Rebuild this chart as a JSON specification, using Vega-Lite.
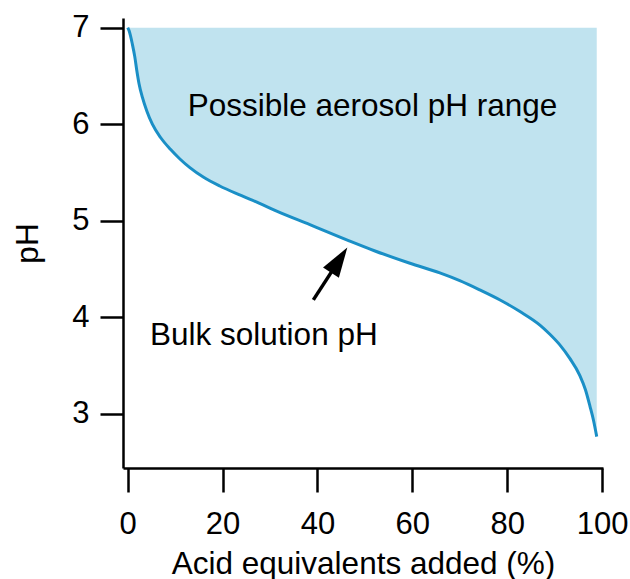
{
  "$schema": "https://vega.github.io/schema/vega-lite/v6.json",
  "width": 480,
  "height": 450,
  "autosize": "none",
  "padding": {"left": 123, "top": 18, "right": 27, "bottom": 111},
  "background": "white",
  "config": {
    "view": {"stroke": null},
    "font": "Liberation Sans",
    "axis": {
      "grid": false,
      "domainColor": "black",
      "domainWidth": 2.5,
      "tickColor": "black",
      "tickWidth": 2.5,
      "labelFont": "Liberation Sans",
      "labelFontSize": 31,
      "labelColor": "black",
      "labelFlush": false,
      "labelOverlap": false,
      "titleFont": "Liberation Sans",
      "titleFontSize": 31.5,
      "titleFontWeight": "normal",
      "titleColor": "black"
    }
  },
  "datasets": {
    "curve": [
      {"x": 0, "pH": 7.0},
      {"x": 0.27, "pH": 6.97},
      {"x": 0.97, "pH": 6.83},
      {"x": 1.48, "pH": 6.7},
      {"x": 1.9, "pH": 6.56},
      {"x": 2.38, "pH": 6.42},
      {"x": 3.08, "pH": 6.28},
      {"x": 4.0, "pH": 6.14},
      {"x": 5.19, "pH": 6.0},
      {"x": 6.96, "pH": 5.86},
      {"x": 9, "pH": 5.74},
      {"x": 11, "pH": 5.64},
      {"x": 13.1, "pH": 5.55},
      {"x": 16, "pH": 5.45},
      {"x": 19.4, "pH": 5.36},
      {"x": 24, "pH": 5.26},
      {"x": 27.8, "pH": 5.18},
      {"x": 31.4, "pH": 5.1},
      {"x": 38.4, "pH": 4.96},
      {"x": 46.8, "pH": 4.79},
      {"x": 52, "pH": 4.69},
      {"x": 59.5, "pH": 4.56},
      {"x": 65.8, "pH": 4.46},
      {"x": 70, "pH": 4.38},
      {"x": 74.2, "pH": 4.285},
      {"x": 78.5, "pH": 4.18},
      {"x": 82.7, "pH": 4.06},
      {"x": 86.9, "pH": 3.92},
      {"x": 89, "pH": 3.825},
      {"x": 91.1, "pH": 3.715},
      {"x": 93.2, "pH": 3.575},
      {"x": 95.3, "pH": 3.4},
      {"x": 96.5, "pH": 3.25},
      {"x": 97.47, "pH": 3.076},
      {"x": 98.17, "pH": 2.94},
      {"x": 98.88, "pH": 2.765}
    ],
    "labels": [
      {"x": 51.6, "pH": 6.08, "label": "Possible aerosol pH range"},
      {"x": 28.7, "pH": 3.71, "label": "Bulk solution pH"}
    ],
    "arrowShaft": [
      {"x": 39.13, "pH": 4.181, "x2": 44.57, "pH2": 4.593}
    ],
    "arrowHead": [
      {"x": 44.57, "pH": 4.593}
    ]
  },
  "encoding": {
    "x": {
      "field": "x",
      "type": "quantitative",
      "scale": {"domain": [-1, 100.2], "nice": false, "zero": false},
      "axis": {
        "values": [0, 20, 40, 60, 80, 100],
        "tickSize": 24,
        "labelPadding": 17,
        "title": "Acid equivalents added (%)",
        "titleY": 105,
        "titleBaseline": "alphabetic"
      }
    },
    "y": {
      "field": "pH",
      "type": "quantitative",
      "scale": {"domain": [2.44, 7.1], "nice": false, "zero": false},
      "axis": {
        "values": [3, 4, 5, 6, 7],
        "tickSize": 23,
        "labelPadding": 11,
        "title": "pH",
        "titleX": -95,
        "titleY": 225,
        "titleAngle": -90,
        "titleAlign": "center",
        "titleBaseline": "middle"
      }
    }
  },
  "layer": [
    {
      "data": {"name": "curve"},
      "mark": {"type": "area", "color": "#c0e3ef", "interpolate": "monotone"},
      "encoding": {"y2": {"datum": 7}}
    },
    {
      "data": {"name": "curve"},
      "mark": {"type": "line", "color": "#1a8fc6", "strokeWidth": 3, "interpolate": "monotone"}
    },
    {
      "data": {"name": "labels"},
      "mark": {"type": "text", "fontSize": 31.5, "font": "Liberation Sans", "color": "black", "align": "center", "baseline": "alphabetic"},
      "encoding": {"text": {"field": "label"}}
    },
    {
      "data": {"name": "arrowShaft"},
      "mark": {"type": "rule", "color": "black", "strokeWidth": 3.5},
      "encoding": {"x2": {"field": "x2"}, "y2": {"field": "pH2"}}
    },
    {
      "data": {"name": "arrowHead"},
      "mark": {"type": "point", "shape": "M0,-1L0.63,1L-0.63,1Z", "filled": true, "color": "black", "opacity": 1, "size": 900, "angle": 33, "strokeWidth": 0}
    }
  ]
}
